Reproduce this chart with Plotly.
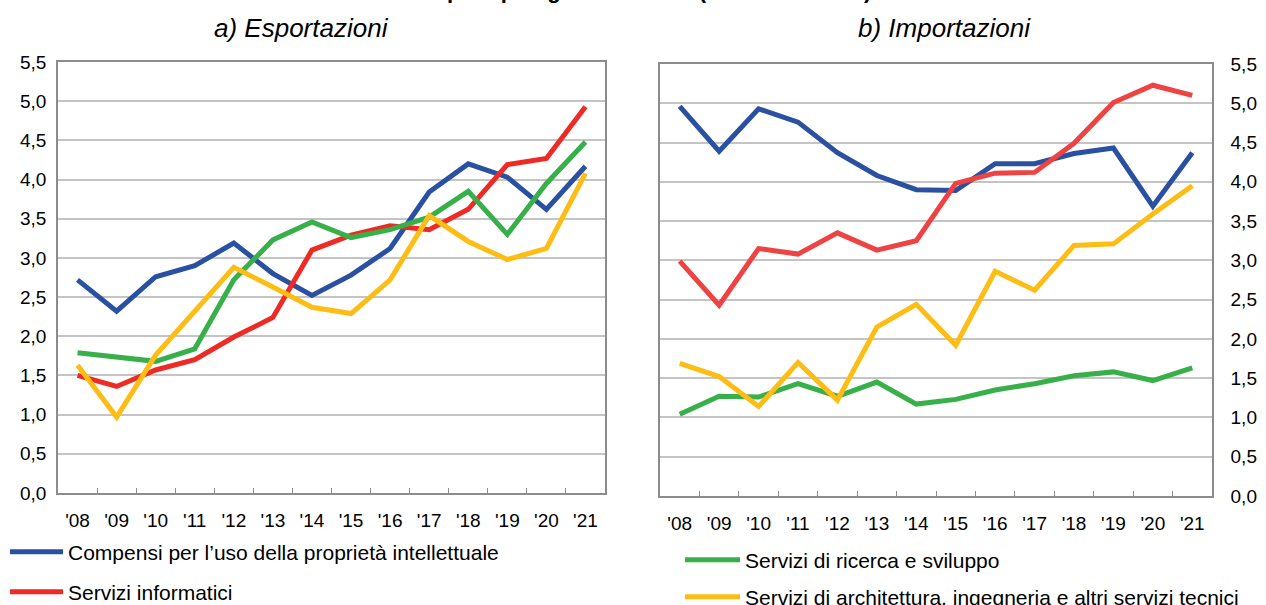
import plotly.graph_objects as go

years = ["'08", "'09", "'10", "'11", "'12", "'13", "'14", "'15", "'16", "'17", "'18", "'19", "'20", "'21"]

# a) Esportazioni
exp_compensi = [2.72, 2.32, 2.76, 2.90, 3.19, 2.80, 2.52, 2.78, 3.12, 3.84, 4.20, 4.03, 3.62, 4.17]
exp_informatici = [1.50, 1.36, 1.57, 1.70, 1.99, 2.24, 3.10, 3.29, 3.41, 3.36, 3.62, 4.19, 4.27, 4.93]
exp_ricerca = [1.79, 1.73, 1.68, 1.84, 2.72, 3.23, 3.46, 3.26, 3.36, 3.52, 3.85, 3.30, 3.95, 4.48]
exp_architettura = [1.63, 0.97, 1.76, 2.33, 2.88, 2.63, 2.37, 2.29, 2.72, 3.54, 3.21, 2.98, 3.12, 4.08]

# b) Importazioni
imp_compensi = [4.96, 4.39, 4.93, 4.76, 4.37, 4.08, 3.90, 3.89, 4.23, 4.23, 4.36, 4.43, 3.69, 4.37]
imp_informatici = [2.99, 2.43, 3.15, 3.08, 3.35, 3.13, 3.25, 3.98, 4.11, 4.12, 4.49, 5.01, 5.23, 5.10]
imp_ricerca = [1.04, 1.27, 1.26, 1.43, 1.27, 1.45, 1.17, 1.23, 1.35, 1.43, 1.53, 1.58, 1.47, 1.63]
imp_architettura = [1.69, 1.52, 1.14, 1.70, 1.22, 2.15, 2.44, 1.92, 2.86, 2.62, 3.19, 3.21, 3.59, 3.95]

y_ticks = [0, 0.5, 1, 1.5, 2, 2.5, 3, 3.5, 4, 4.5, 5, 5.5]
y_tick_text = ["0,0", "0,5", "1,0", "1,5", "2,0", "2,5", "3,0", "3,5", "4,0", "4,5", "5,0", "5,5"]

names = ["Compensi per l’uso della proprietà intellettuale", "Servizi informatici",
         "Servizi di ricerca e sviluppo", "Servizi di architettura, ingegneria e altri servizi tecnici"]
col_blue = "#2a50a2"
col_red_l = "#ee2a24"
col_red_r = "#ef4242"
col_green = "#38b04a"
col_yellow = "#fdbd14"

W, H = 1266, 605
FONT = "Liberation Sans, Arial, sans-serif"

fig = go.Figure()
LW = 5
left = [(exp_compensi, col_blue, names[0], "legend"),
        (exp_informatici, col_red_l, names[1], "legend2"),
        (exp_ricerca, col_green, names[2], "legend3"),
        (exp_architettura, col_yellow, names[3], "legend4")]
right = [(imp_compensi, col_blue), (imp_informatici, col_red_r),
         (imp_ricerca, col_green), (imp_architettura, col_yellow)]
for vals, c, n, lg in left:
    fig.add_trace(go.Scatter(x=years, y=vals, mode="lines", name=n, legend=lg,
                             line=dict(color=c, width=LW), xaxis="x", yaxis="y",
                             hoverinfo="skip"))
for vals, c in right:
    fig.add_trace(go.Scatter(x=years, y=vals, mode="lines", showlegend=False,
                             line=dict(color=c, width=LW), xaxis="x2", yaxis="y2",
                             hoverinfo="skip"))

def px_x(v):
    return v / W

def px_y(v):
    return 1 - v / H

xcommon = dict(type="category", range=[-0.5, 13.5], showgrid=False, showline=True,
               linecolor="#8c8c8c", linewidth=1.5, mirror=True, ticks="inside",
               tickson="boundaries", ticklen=5, tickcolor="#8c8c8c", tickwidth=1,
               tickangle=0, automargin=False,
               tickfont=dict(family=FONT, size=19, color="#000"), ticklabelstandoff=9,
               fixedrange=True)
ycommon = dict(range=[0, 5.5], tickvals=y_ticks, ticktext=y_tick_text, showgrid=True,
               gridcolor="#c4c4c4", gridwidth=1.5, showline=True, linecolor="#8c8c8c",
               linewidth=1.5, mirror=True, ticks="", zeroline=False, automargin=False,
               tickfont=dict(family=FONT, size=19, color="#000"), fixedrange=True)

fig.update_layout(
    template="none",
    width=W, height=H,
    margin=dict(l=0, r=0, t=0, b=0, autoexpand=False),
    paper_bgcolor="white", plot_bgcolor="white",
    xaxis=dict(domain=[px_x(58), px_x(605)], anchor="y", **xcommon),
    yaxis=dict(domain=[px_y(493), px_y(62)], anchor="x", side="left",
               ticklabelstandoff=6, **ycommon),
    xaxis2=dict(domain=[px_x(660), px_x(1212)], anchor="y2", **xcommon),
    yaxis2=dict(domain=[px_y(496), px_y(64)], anchor="x2", side="right",
                ticklabelstandoff=13, **ycommon),
    font=dict(family=FONT, size=18, color="#000"),
)

legfont = dict(family=FONT, size=21, color="#000")
def leg(xp, yp, iw):
    return dict(x=px_x(xp), y=px_y(yp), xref="container", yref="container",
                xanchor="left", yanchor="middle",
                bgcolor="rgba(0,0,0,0)", font=legfont, itemwidth=iw,
                tracegroupgap=0, borderwidth=0)

fig.update_layout(legend=leg(5, 552, 53), legend2=leg(5, 592, 53),
                  legend3=leg(680, 560, 55), legend4=leg(680, 597, 55))

fig.add_annotation(text="<i>a) Esportazioni</i>", x=px_x(301), y=px_y(28),
                   xref="paper", yref="paper", showarrow=False,
                   xanchor="center", yanchor="middle",
                   font=dict(family=FONT, size=26, color="#000"))
fig.add_annotation(text="<i>b) Importazioni</i>", x=px_x(944), y=px_y(28),
                   xref="paper", yref="paper", showarrow=False,
                   xanchor="center", yanchor="middle",
                   font=dict(family=FONT, size=26, color="#000"))
fig.add_annotation(text="<b>Servizi per tipologia di servizio (miliardi di euro)</b>",
                   x=px_x(620), y=px_y(-10), xref="paper", yref="paper", showarrow=False,
                   xanchor="center", yanchor="middle",
                   font=dict(family=FONT, size=22, color="#000"))

fig.write_html("out.html", config={"displayModeBar": False},
               post_script="document.body.style.margin='0px';document.body.style.overflow='hidden';")
